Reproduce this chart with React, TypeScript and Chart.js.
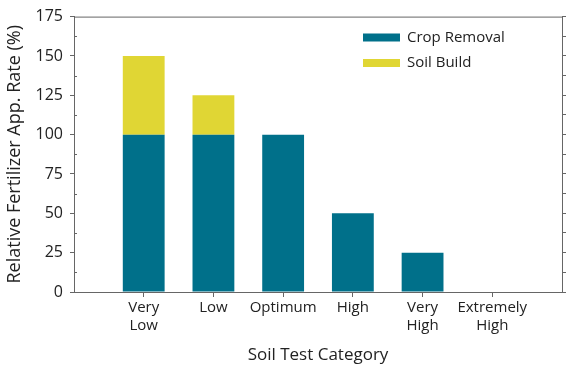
import React, { useEffect, useRef } from "react";
import { Chart, registerables } from "chart.js";

Chart.register(...registerables);

const categories: (string | string[])[] = [
  ["Very", "Low"],
  "Low",
  "Optimum",
  "High",
  ["Very", "High"],
  ["Extremely", "High"],
];
const cropRemoval = [100, 100, 100, 50, 25, 0];
const soilBuild = [50, 25, 0, 0, 0, 0];
const seriesNames = ["Crop Removal", "Soil Build"];
const seriesColors = ["#00708a", "#e0d634"];
const yTicks = { min: 0, max: 175, major: 25, minor: 12.5 };
const xTitle = "Soil Test Category";
const yTitle = "Relative Fertilizer App. Rate (%)";

const FONT = "'Open Sans', sans-serif";
const AXIS = "#666666";
const TEXT = "#222222";
const CLEAR = "rgba(0,0,0,0)";

const isMajor = (v: number) => Math.abs(v % yTicks.major) < 1e-6;

const extrasPlugin = {
  id: "extras",
  afterDraw(chart: any) {
    const { ctx, chartArea } = chart;
    const y = chart.scales.y;
    ctx.save();
    ctx.strokeStyle = AXIS;
    ctx.lineWidth = 1;
    ctx.beginPath();
    ctx.moveTo(chartArea.left, chartArea.top + 0.5);
    ctx.lineTo(chartArea.right, chartArea.top + 0.5);
    // minor ticks on left axis point inward
    for (let v = yTicks.min; v <= yTicks.max; v += yTicks.minor) {
      if (isMajor(v)) continue;
      const py = Math.round(y.getPixelForValue(v)) + 0.5;
      ctx.moveTo(chartArea.left, py);
      ctx.lineTo(chartArea.left + 3, py);
    }
    ctx.stroke();
    // legend inside plot
    const ys = [37.5, 63];
    chart.data.datasets.forEach((ds: any, i: number) => {
      ctx.fillStyle = ds.backgroundColor;
      ctx.fillRect(363, ys[i] - 4, 37, 8);
      ctx.fillStyle = TEXT;
      ctx.font = `15px ${FONT}`;
      ctx.textBaseline = "middle";
      ctx.textAlign = "left";
      ctx.fillText(ds.label, 407, ys[i]);
    });
    ctx.restore();
  },
};

export default function App() {
  const ref = useRef<HTMLCanvasElement>(null);
  useEffect(() => {
    if (!ref.current) return;
    const labels = ["", ...categories, ""];
    const pad = (a: number[]) => [null, ...a, null];
    const chart = new Chart(ref.current, {
      type: "bar",
      data: {
        labels: labels as any,
        datasets: [
          { label: seriesNames[0], data: pad(cropRemoval) as any, backgroundColor: seriesColors[0] },
          { label: seriesNames[1], data: pad(soilBuild) as any, backgroundColor: seriesColors[1] },
        ],
      },
      options: {
        animation: false,
        responsive: false,
        maintainAspectRatio: false,
        layout: { padding: { top: 15, left: 0, right: 0, bottom: 0 } },
        datasets: { bar: { categoryPercentage: 1, barPercentage: 0.6 } } as any,
        plugins: { legend: { display: false }, tooltip: { enabled: false } },
        scales: {
          x: {
            type: "category",
            stacked: true,
            offset: false,
            border: { color: AXIS, width: 1 },
            grid: {
              offset: false,
              drawOnChartArea: false,
              tickLength: 5,
              color: (c: any) =>
                c.index === 0 || c.index === labels.length - 1 ? CLEAR : AXIS,
            },
            ticks: { color: TEXT, font: { family: FONT, size: 15, lineHeight: 1.2 }, padding: 2, autoSkip: false, maxRotation: 0 },
            title: { display: true, text: xTitle, color: TEXT, font: { family: FONT, size: 17 }, padding: { top: 0, bottom: 2 } },
            afterFit: (s: any) => { s.height = 75; },
          },
          y: {
            stacked: true,
            min: yTicks.min,
            max: yTicks.max,
            border: { color: AXIS, width: 1 },
            grid: {
              drawOnChartArea: false,
              tickLength: 4,
              color: (c: any) => (c.tick && isMajor(c.tick.value) ? AXIS : CLEAR),
            },
            ticks: {
              stepSize: yTicks.minor,
              autoSkip: false,
              color: TEXT,
              padding: 7,
              font: { family: FONT, size: 16 },
              callback: (v: any) => (isMajor(Number(v)) ? String(v) : ""),
            },
            title: { display: true, text: yTitle, color: TEXT, font: { family: FONT, size: 18 }, padding: { top: 4, bottom: 0 } },
            afterFit: (s: any) => { s.width = 74; },
          },
          y2: {
            position: "right",
            min: yTicks.min,
            max: yTicks.max,
            border: { color: AXIS, width: 1 },
            grid: { drawOnChartArea: false, tickLength: 4, color: AXIS },
            ticks: { stepSize: yTicks.minor, autoSkip: false, padding: 0, callback: () => "" },
            afterFit: (s: any) => { s.width = 13; },
          },
        },
      },
      plugins: [extrasPlugin],
    });
    return () => chart.destroy();
  }, []);
  return (
    <div style={{ position: "fixed", left: 0, top: 0, width: 575, height: 367, background: "#fff" }}>
      <canvas ref={ref} width={575} height={367} style={{ width: 575, height: 367 }} />
    </div>
  );
}
